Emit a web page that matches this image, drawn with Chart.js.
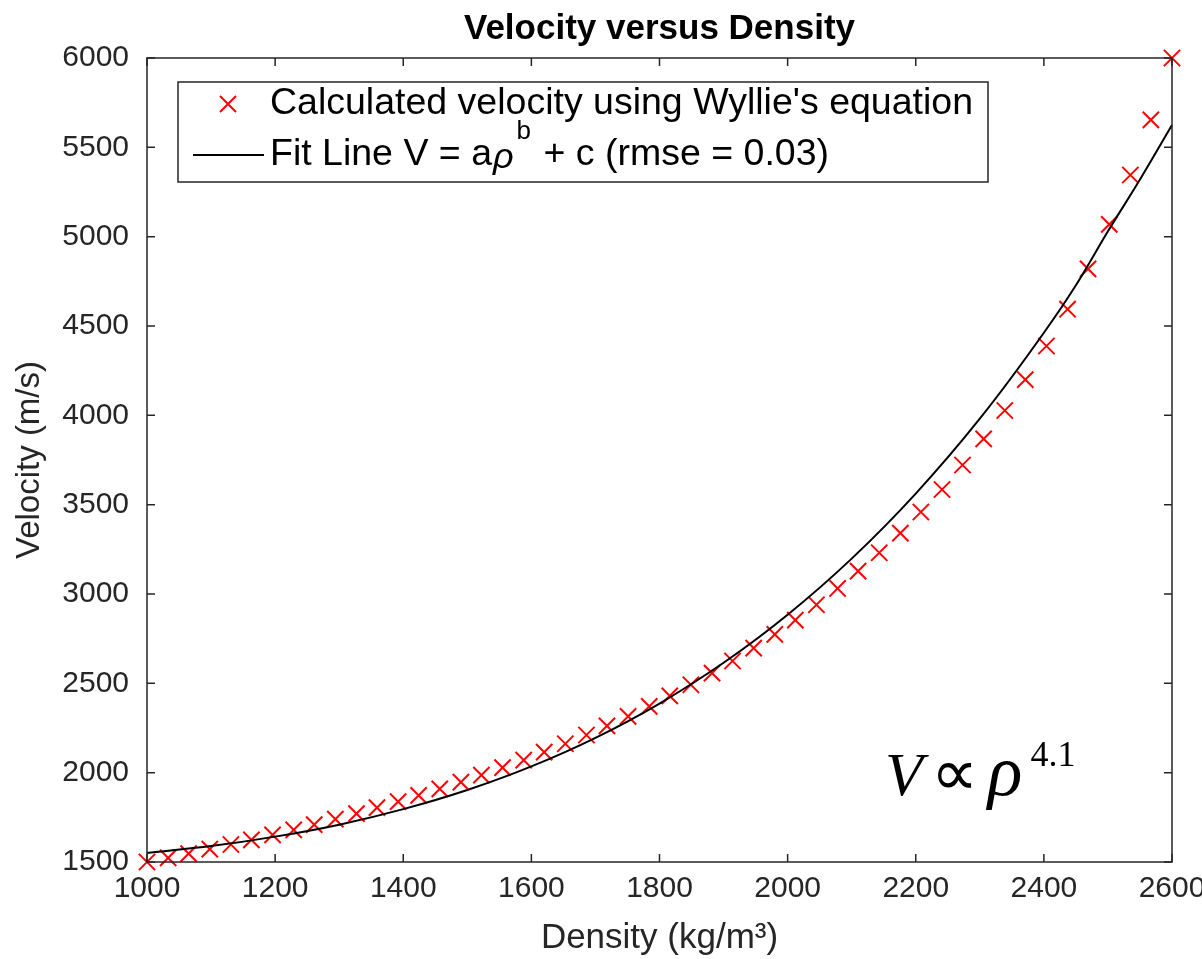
<!DOCTYPE html>
<html>
<head>
<meta charset="utf-8">
<script src="https://cdn.jsdelivr.net/npm/chart.js@4/dist/chart.umd.min.js"></script>
<style>
  body { margin: 0; background: #fff; }
  canvas { display: block; }
</style>
</head>
<body>
<canvas id="velocityChart" width="1202" height="959"></canvas>
<script>
// Wyllie's equation points
const densityPoints = [
  1000, 1033, 1065, 1098, 1131, 1163, 1196, 1229, 1261, 1294,
  1327, 1359, 1392, 1424, 1457, 1490, 1522, 1555, 1588, 1620,
  1653, 1686, 1718, 1751, 1784, 1816, 1849, 1882, 1914, 1947,
  1980, 2012, 2045, 2078, 2110, 2143, 2176, 2208, 2241, 2273,
  2306, 2339, 2371, 2404, 2437, 2469, 2502, 2535, 2567, 2600
];
const velocityPoints = [
  1500, 1523, 1547, 1572, 1598, 1624, 1652, 1680, 1709, 1740,
  1771, 1804, 1838, 1873, 1909, 1947, 1986, 2028, 2070, 2115,
  2162, 2211, 2262, 2315, 2371, 2430, 2492, 2557, 2625, 2697,
  2774, 2854, 2940, 3031, 3128, 3231, 3341, 3459, 3585, 3722,
  3868, 4027, 4200, 4388, 4594, 4820, 5069, 5345, 5654, 6000
];

// fit line V = a*rho^b + c
const fitDensity = [1000, 1100, 1200, 1300, 1400, 1500, 1600, 1700, 1800, 1900,
  2000, 2100, 2200, 2300, 2400, 2450, 2500, 2550, 2600];
const fitVelocity = [1550, 1589, 1642, 1709, 1796, 1903, 2035, 2195, 2387, 2615,
  2884, 3198, 3562, 3981, 4462, 4728, 5030, 5320, 5625];

const xTicks = [1000, 1200, 1400, 1600, 1800, 2000, 2200, 2400, 2600];
const yTicks = [1500, 2000, 2500, 3000, 3500, 4000, 4500, 5000, 5500, 6000];

const titleText = "Velocity versus Density";
const xLabel = "Density (kg/m³)";
const yLabel = "Velocity (m/s)";
const legendText1 = "Calculated velocity using Wyllie's equation";

const AXIS_COLOR = "#262626";
const FONT = "'Liberation Sans', Arial, Helvetica, sans-serif";
const SERIF = "'Liberation Serif', 'Times New Roman', serif";

// box, inward ticks, title, legend and the V ∝ rho^4.1 note
const decorPlugin = {
  id: "decor",
  afterDraw(chart) {
    const ctx = chart.ctx;
    const a = chart.chartArea;
    const xs = chart.scales.x;
    const ys = chart.scales.y;
    ctx.save();

    // axes box
    ctx.strokeStyle = AXIS_COLOR;
    ctx.lineWidth = 1.5;
    ctx.strokeRect(a.left, a.top, a.right - a.left, a.bottom - a.top);

    // inward tick marks on all four sides
    const tl = 8;
    ctx.beginPath();
    xTicks.forEach((v) => {
      const px = xs.getPixelForValue(v);
      ctx.moveTo(px, a.bottom);
      ctx.lineTo(px, a.bottom - tl);
      ctx.moveTo(px, a.top);
      ctx.lineTo(px, a.top + tl);
    });
    yTicks.forEach((v) => {
      const py = ys.getPixelForValue(v);
      ctx.moveTo(a.left, py);
      ctx.lineTo(a.left + tl, py);
      ctx.moveTo(a.right, py);
      ctx.lineTo(a.right - tl, py);
    });
    ctx.stroke();

    // title
    ctx.fillStyle = "#000";
    ctx.font = "bold 35px " + FONT;
    ctx.textAlign = "center";
    ctx.textBaseline = "middle";
    ctx.fillText(titleText, (a.left + a.right) / 2, 29);

    // legend
    const lg = { left: 178, top: 82, right: 988, bottom: 182 };
    ctx.fillStyle = "#fff";
    ctx.fillRect(lg.left, lg.top, lg.right - lg.left, lg.bottom - lg.top);
    ctx.strokeStyle = AXIS_COLOR;
    ctx.lineWidth = 1.5;
    ctx.strokeRect(lg.left, lg.top, lg.right - lg.left, lg.bottom - lg.top);

    const row1 = 104;
    const row2 = 155;
    // marker sample
    ctx.strokeStyle = "rgb(255,0,0)";
    ctx.lineWidth = 2;
    ctx.beginPath();
    ctx.moveTo(228 - 8, row1 - 8);
    ctx.lineTo(228 + 8, row1 + 8);
    ctx.moveTo(228 + 8, row1 - 8);
    ctx.lineTo(228 - 8, row1 + 8);
    ctx.stroke();
    // line sample
    ctx.strokeStyle = "#000";
    ctx.lineWidth = 2;
    ctx.beginPath();
    ctx.moveTo(193, row2);
    ctx.lineTo(264, row2);
    ctx.stroke();

    ctx.fillStyle = "#000";
    ctx.textAlign = "left";
    ctx.textBaseline = "middle";
    ctx.font = "37.5px " + FONT;
    ctx.fillText(legendText1, 270, row1);

    let tx = 270;
    const part1 = "Fit Line V = a";
    ctx.fillText(part1, tx, row2);
    tx += ctx.measureText(part1).width + 1;
    ctx.font = "italic 36px " + FONT;
    ctx.fillText("ρ", tx, row2 + 3);
    tx += ctx.measureText("ρ").width + 3;
    ctx.font = "26px " + FONT;
    ctx.fillText("b", tx, row2 - 23);
    tx += ctx.measureText("b").width + 2;
    ctx.font = "37.5px " + FONT;
    ctx.fillText(" + c (rmse = 0.03)", tx, row2);

    // V ∝ rho^4.1
    let ax = a.left + 738;
    const ab = a.bottom - 67;
    ctx.textBaseline = "alphabetic";
    ctx.font = "italic 62px " + SERIF;
    ctx.fillText("V", ax, ab);
    ax += ctx.measureText("V").width + 8;
    ctx.font = "66px " + SERIF;
    ctx.fillText("∝", ax, ab);
    ax += ctx.measureText("∝").width + 10;
    ctx.font = "italic 72px " + SERIF;
    ctx.fillText("ρ", ax, ab);
    ax += ctx.measureText("ρ").width + 8;
    ctx.font = "36px " + SERIF;
    ctx.fillText("4.1", ax, ab - 29);

    ctx.restore();
  }
};

const ctx = document.getElementById("velocityChart").getContext("2d");

new Chart(ctx, {
  type: "scatter",
  data: {
    datasets: [
      {
        label: legendText1,
        data: densityPoints.map((x, i) => ({ x, y: velocityPoints[i] })),
        pointStyle: "crossRot",
        pointRadius: 11.5,
        pointHoverRadius: 11.5,
        borderColor: "rgb(255,0,0)",
        backgroundColor: "rgb(255,0,0)",
        pointBorderWidth: 2,
        clip: false,
        order: 2,
      },
      {
        label: "Fit Line",
        data: fitDensity.map((x, i) => ({ x, y: fitVelocity[i] })),
        showLine: true,
        borderColor: "#000",
        borderWidth: 2,
        pointRadius: 0,
        cubicInterpolationMode: "monotone",
        clip: false,
        order: 1,
      },
    ],
  },
  options: {
    responsive: false,
    animation: false,
    devicePixelRatio: 1,
    layout: {
      padding: { top: 58, right: 30, left: 0, bottom: 0 },
    },
    scales: {
      x: {
        type: "linear",
        min: 1000,
        max: 2600,
        afterBuildTicks: (scale) => {
          scale.ticks = xTicks.map((v) => ({ value: v }));
        },
        afterFit: (scale) => {
          scale.height = 97;
          scale.paddingLeft = 0;
          scale.paddingRight = 0;
        },
        grid: { display: false, drawTicks: false },
        border: { display: false },
        ticks: {
          padding: 9,
          color: AXIS_COLOR,
          font: { family: FONT, size: 30 },
          autoSkip: false,
          maxRotation: 0,
          callback: (value) => String(value),
        },
        title: {
          display: true,
          text: xLabel,
          color: AXIS_COLOR,
          font: { family: FONT, size: 35 },
          padding: { top: 0, bottom: 0 },
        },
      },
      y: {
        type: "linear",
        min: 1500,
        max: 6000,
        afterBuildTicks: (scale) => {
          scale.ticks = yTicks.map((v) => ({ value: v }));
        },
        afterFit: (scale) => {
          scale.width = 147;
          scale.paddingTop = 0;
          scale.paddingBottom = 0;
        },
        grid: { display: false, drawTicks: false },
        border: { display: false },
        ticks: {
          padding: 18,
          color: AXIS_COLOR,
          font: { family: FONT, size: 30 },
          autoSkip: false,
          callback: (value) => String(value),
        },
        title: {
          display: true,
          text: yLabel,
          color: AXIS_COLOR,
          font: { family: FONT, size: 33 },
          padding: { top: 10, bottom: 0 },
        },
      },
    },
    plugins: {
      legend: { display: false },
      title: { display: false },
      tooltip: { enabled: false },
    },
  },
  plugins: [decorPlugin],
});
</script>
</body>
</html>
